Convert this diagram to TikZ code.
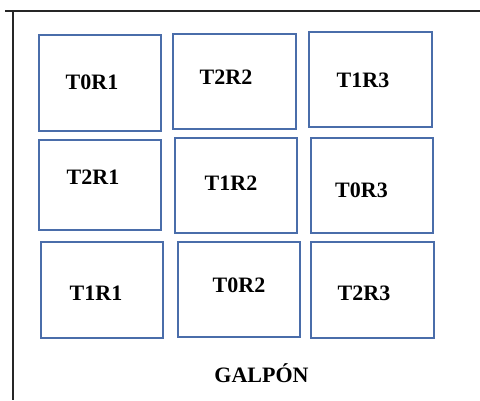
\documentclass[tikz,border=0pt]{standalone}
\usepackage{fontspec}
\setmainfont{Liberation Serif}
\definecolor{boxblue}{HTML}{4A6DAA}
\begin{document}
\begin{tikzpicture}[x=1pt,y=-1pt,
  plot/.style={draw=boxblue, line width=1.3pt, rectangle, inner sep=0pt, fill=white},
  lbl/.style={font=\fontsize{22}{26}\selectfont\bfseries, inner sep=0pt, text=black},
  frameline/.style={draw=black!85, line width=1.5pt}]
\useasboundingbox (0,0) rectangle (480,400);
% frame
\coordinate (ftl) at (13,11);
\coordinate (fl) at (5,11);
\coordinate (fr) at (480,11);
\coordinate (fb) at (13,400);
\coordinate (ft) at (13,10);
\draw[frameline] (fl) -- (fr);
\draw[frameline] (ft) -- (fb);
% plots row 1
\node[plot, minimum width=122pt, minimum height=96pt] (t0r1) at (100,83) {};
\node[lbl] (l-t0r1) at (92,82) {T0R1};
\node[plot, minimum width=123pt, minimum height=95pt] (t2r2) at (234.5,81.5) {};
\node[lbl] (l-t2r2) at (226,77) {T2R2};
\node[plot, minimum width=123pt, minimum height=95pt] (t1r3) at (370.5,79.5) {};
\node[lbl] (l-t1r3) at (363,80) {T1R3};
% row 2
\node[plot, minimum width=122pt, minimum height=90pt] (t2r1) at (100,185) {};
\node[lbl] (l-t2r1) at (93,177) {T2R1};
\node[plot, minimum width=122pt, minimum height=95pt] (t1r2) at (236,185.5) {};
\node[lbl] (l-t1r2) at (231,183) {T1R2};
\node[plot, minimum width=122pt, minimum height=95pt] (t0r3) at (372,185.5) {};
\node[lbl] (l-t0r3) at (361.5,190) {T0R3};
% row 3
\node[plot, minimum width=122pt, minimum height=96pt] (t1r1) at (102,290) {};
\node[lbl] (l-t1r1) at (96,293) {T1R1};
\node[plot, minimum width=122pt, minimum height=95pt] (t0r2) at (239,289.5) {};
\node[lbl] (l-t0r2) at (239,285) {T0R2};
\node[plot, minimum width=123pt, minimum height=96pt] (t2r3) at (372.5,290) {};
\node[lbl] (l-t2r3) at (364,293) {T2R3};
% title
\node[lbl] (galpon) at (261.5,373) {GALPÓN};
\end{tikzpicture}
\end{document}
